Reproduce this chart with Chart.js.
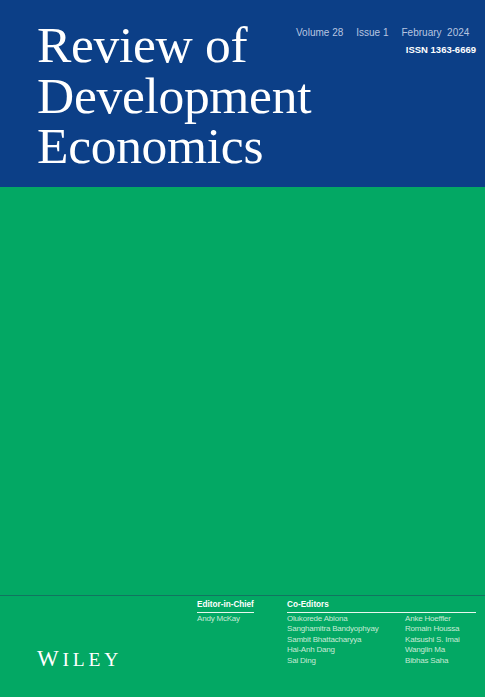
<!DOCTYPE html>
<html>
<head>
<meta charset="utf-8">
<script src="https://cdn.jsdelivr.net/npm/chart.js@4"></script>
<style>
  html, body { margin: 0; padding: 0; }
  body { width: 485px; height: 697px; position: relative; overflow: hidden; background: #03a864; font-family: "Liberation Sans", Arial, sans-serif; }
  #top { position: absolute; left: 0; top: 0; width: 485px; height: 187px; background: #0c3f87; }
  #title { position: absolute; left: 37px; top: 20px; font-family: "Liberation Serif", serif; font-size: 51.5px; line-height: 50.5px; color: #ffffff; letter-spacing: -0.3px; white-space: nowrap; }
  #issue { position: absolute; left: 296px; top: 26.5px; font-size: 10px; line-height: 12px; color: #b8c5e0; white-space: pre; }
  #issue span + span { margin-left: 13px; }
  #issn { position: absolute; right: 9px; top: 44px; font-size: 9.5px; line-height: 12px; color: #ffffff; font-weight: bold; white-space: nowrap; }
  #chartWrap { position: absolute; left: 0; top: 187px; width: 485px; height: 407px; }
  #divider { position: absolute; left: 0; top: 594.5px; width: 485px; height: 1.5px; background: #117560; }
  .head { position: absolute; font-size: 8.2px; font-weight: bold; color: #ffffff; line-height: 10px; padding-bottom: 2px; border-bottom: 1px solid #e8f7ee; white-space: nowrap; }
  .names { position: absolute; font-size: 8px; letter-spacing: -0.2px; line-height: 10.4px; color: #c6eAd5; white-space: nowrap; }
  #wiley { position: absolute; left: 37px; top: 647px; font-family: "Liberation Serif", serif; color: #ffffff; letter-spacing: 3.8px; line-height: 24px; white-space: nowrap; }
  #wiley .big { font-size: 23px; }
  #wiley .sm { font-size: 19.5px; }
</style>
</head>
<body>
<div id="top"></div>
<div id="title"></div>
<div id="issue"></div>
<div id="issn"></div>
<div id="chartWrap"><canvas id="c"></canvas></div>
<div id="divider"></div>
<div class="head" id="eicHead" style="left:197px; top:600px; width:57px;"></div>
<div class="names" id="eic" style="left:197px; top:614px;"></div>
<div class="head" id="coHead" style="left:287px; top:600px; width:189px;"></div>
<div class="names" id="co1" style="left:287px; top:614px;"></div>
<div class="names" id="co2" style="left:405px; top:614px;"></div>
<div id="wiley"><span class="big">W</span><span class="sm">ILEY</span></div>
<script>
const titleLines = ["Review of", "Development", "Economics"];
const issueParts = ["Volume 28", "Issue 1", "February  2024"];
const issnText = "ISSN 1363-6669";
const editorInChiefLabel = "Editor-in-Chief";
const editorInChief = ["Andy McKay"];
const coEditorsLabel = "Co-Editors";
const coEditorsCol1 = ["Olukorede Abiona", "Sanghamitra Bandyophyay", "Sambit Bhattacharyya", "Hai-Anh Dang", "Sai Ding"];
const coEditorsCol2 = ["Anke Hoeffler", "Romain Houssa", "Katsushi S. Imai", "Wanglin Ma", "Bibhas Saha"];

document.getElementById('title').innerHTML = titleLines.join('<br>');
const issueEl = document.getElementById('issue');
issueParts.forEach(p => { const s = document.createElement('span'); s.textContent = p; issueEl.appendChild(s); });
document.getElementById('issn').textContent = issnText;
document.getElementById('eicHead').textContent = editorInChiefLabel;
document.getElementById('eic').innerHTML = editorInChief.join('<br>');
document.getElementById('coHead').textContent = coEditorsLabel;
document.getElementById('co1').innerHTML = coEditorsCol1.join('<br>');
document.getElementById('co2').innerHTML = coEditorsCol2.join('<br>');

new Chart(document.getElementById('c'), {
  type: 'bar',
  data: { labels: [], datasets: [] },
  options: {
    responsive: true,
    maintainAspectRatio: false,
    animation: false,
    plugins: { legend: { display: false }, tooltip: { enabled: false } },
    scales: { x: { display: false }, y: { display: false } }
  }
});
</script>
</body>
</html>
